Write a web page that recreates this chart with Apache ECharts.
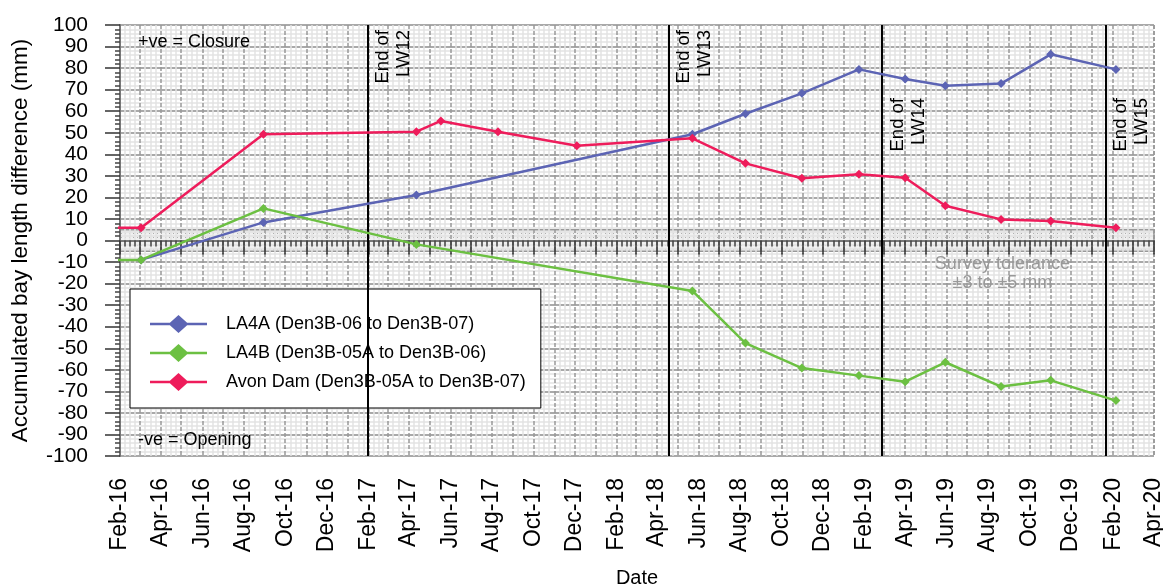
<!DOCTYPE html>
<html>
<head>
<meta charset="utf-8">
<script src="https://cdn.jsdelivr.net/npm/echarts@6/dist/echarts.min.js"></script>
<style>
html,body{margin:0;padding:0;background:#fff;}
#chart{width:1163px;height:588px;}
</style>
</head>
<body>
<div id="chart"></div>
<script>
// survey dates shared by LA4A / LA4B
var surveyDates = ['2016-03-03','2016-08-30','2017-04-12','2018-05-23','2018-08-09','2018-10-31','2019-01-23','2019-04-01','2019-05-30','2019-08-20','2019-11-01','2020-02-05'];
var la4aVals = [-9, 8.4, 21.1, 49.3, 58.8, 68.3, 79.4, 74.9, 71.8, 72.8, 86.4, 79.4];
var la4bDates = ['2016-01-15'].concat(surveyDates);
var la4bVals = [-9, -9, 14.9, -1.8, -23.4, -47.6, -59.2, -62.7, -65.5, -56.5, -67.8, -64.9, -74.3];
var avonDates = ['2016-01-15','2016-03-03','2016-08-30','2017-04-12','2017-05-18','2017-08-10','2017-12-04','2018-05-23','2018-08-09','2018-10-31','2019-01-23','2019-04-01','2019-05-30','2019-08-20','2019-11-01','2020-02-05'];
var avonVals = [6, 5.9, 49.3, 50.5, 55.5, 50.5, 44.0, 47.4, 35.8, 28.9, 30.7, 29.1, 16.1, 9.8, 9.0, 5.9];

// end of longwall dates
var lwDates = ['2017-01-30','2018-04-18','2019-02-26','2020-01-21'];
var lwNames = ['LW12','LW13','LW14','LW15'];

var monthNames = ['Jan','Feb','Mar','Apr','May','Jun','Jul','Aug','Sep','Oct','Nov','Dec'];
var seriesNames = ['LA4A (Den3B-06 to Den3B-07)','LA4B (Den3B-05A to Den3B-06)','Avon Dam (Den3B-05A to Den3B-07)'];
var colors = ['#5c64b4','#6cc042','#ee1c5b'];

var FONT = 'Liberation Sans, Arial, sans-serif';
var DAY = 86400000;
//legend icon: line with a big diamond
var legendIcon = 'path://M0,7.8 L57,7.8 L57,10.2 L0,10.2 Z M28.5,0 L38.5,9 L28.5,18 L18.5,9 Z';

function zip(d, v){
	var out = [];
	for(var i=0;i<d.length;i++){
		out.push([d[i], v[i]]);
	}
	return out;
}

//dotted fill for the survey tolerance band
var pat = document.createElement('canvas');
pat.width = 4; pat.height = 4;
var pctx = pat.getContext('2d');
pctx.fillStyle = 'rgba(225,225,225,0.5)';
pctx.fillRect(0,0,4,4);
pctx.fillStyle = '#b0b0b0';
pctx.fillRect(1,1,1,1);

var lwData = [];
for(var i=0;i<lwDates.length;i++){
	var item = {xAxis: lwDates[i], name: lwNames[i]};
	if(i>=2){
		item.label = {padding:[0,68,0,0]};
	}
	lwData.push(item);
}

function lineSeries(idx, data){
	return {
		name: seriesNames[idx],
		type: 'line',
		data: data,
		symbol: 'diamond',
		symbolSize: 9,
		z: 5,
		lineStyle: {color: colors[idx], width: 2.5},
		itemStyle: {color: colors[idx]},
		animation: false
	};
}

var legendData = [];
for(var j=0;j<seriesNames.length;j++){
	legendData.push({name: seriesNames[j], icon: legendIcon});
}

var myChart = echarts.init(document.getElementById('chart'));
var option = {
	animation: false,
	textStyle: {fontFamily: FONT},
	grid: {left:120, right:9, top:25, bottom:132, containLabel:false, outerBoundsMode:'none'},
	legend: {
		orient: 'vertical',
		left: 130, top: 289,
		padding: [26,15,17,20],
		backgroundColor: '#fff',
		borderColor: '#000',
		borderWidth: 1,
		itemWidth: 57, itemHeight: 18,
		itemGap: 11,
		textStyle: {fontFamily: FONT, fontSize: 18, color:'#000', padding:[0,0,0,14]},
		data: legendData
	},
	xAxis: {
		type: 'time',
		min: '2016-02-01', max: '2020-04-01',
		splitNumber: 50,
		minInterval: 28*DAY, maxInterval: 31*DAY,
		name: 'Date', nameLocation: 'middle', nameGap: 112,
		nameTextStyle: {fontFamily: FONT, fontSize: 20, color:'#000'},
		axisLine: {show:true, lineStyle:{color:'#777', width:2}},
		axisTick: {show:true, length:14, lineStyle:{color:'#333', width:1.5}},
		minorTick: {show:true, splitNumber:4, length:6, lineStyle:{color:'#444', width:1.5}},
		splitLine: {show:true, lineStyle:{color:'#999', width:1.5, type:[4,2]}},
		minorSplitLine: {show:true, lineStyle:{color:'#e4e4e4', width:1.5}},
		axisLabel: {
			rotate: 90, margin: 22,
			fontFamily: FONT, fontSize: 23, color:'#000',
			showMinLabel: true, showMaxLabel: true,
			formatter: function(val){
				var d = new Date(val);
				if(d.getMonth()%2 !== 1) return '';
				return monthNames[d.getMonth()] + '-' + String(d.getFullYear()).slice(2);
			}
		}
	},
	yAxis: {
		type: 'value',
		min: -100, max: 100, interval: 10,
		name: 'Accumulated bay length difference (mm)', nameLocation: 'middle', nameGap: 88,
		nameTextStyle: {fontFamily: FONT, fontSize: 22.5, color:'#000'},
		axisLine: {show:true, lineStyle:{color:'#777', width:2}},
		axisTick: {show:true, length:15, lineStyle:{color:'#333', width:1.5}},
		minorTick: {show:true, splitNumber:5, length:5, lineStyle:{color:'#444', width:1.5}},
		splitLine: {show:true, lineStyle:{color:'#8c8c8c', width:1.5}},
		minorSplitLine: {show:true, lineStyle:{color:'#e4e4e4', width:1.5}},
		axisLabel: {margin: 32, fontFamily: FONT, fontSize: 21, color:'#000'}
	},
	graphic: [
		{type:'text', left:138, top:33, z:100, style:{text:'+ve = Closure', font:'18px ' + FONT, fill:'#000'}},
		{type:'text', left:138, top:431, z:100, style:{text:'-ve = Opening', font:'18px ' + FONT, fill:'#000'}}
	],
	series: [
		{
			type: 'line', data: [], z: -1, silent: true,
			markArea: {
				silent: true, z: -1,
				itemStyle: {color: {image: pat, repeat: 'repeat'}, borderColor:'#999', borderWidth:1.5},
				data: [[{yAxis:-5},{yAxis:5}]]
			}
		},
		{
			type: 'line', data: [], z: 3, silent: true,
			markLine: {
				silent: true, symbol: ['none','none'],
				lineStyle: {color:'#000', width:2, type:'solid'},
				label: {
					show: true, position: 'insideEndBottom', distance: 5,
					formatter: 'End of\n{b}', color:'#000', fontSize:18.5, lineHeight:21, fontFamily:FONT
				},
				emphasis: {disabled:true},
				data: lwData
			}
		},
		{
			type: 'line', data: [], z: 50, silent: true,
			markPoint: {
				silent: true, symbol: 'circle', symbolSize: 1, z: 50,
				itemStyle: {color: 'rgba(0,0,0,0)'},
				label: {show:true, position:'inside', formatter:'Survey tolerance\n±3 to ±5 mm', color:'#999', fontSize:18, lineHeight:19, fontFamily:FONT},
				data: [{coord:['2019-08-22', -15.5]}]
			}
		},
		lineSeries(0, zip(surveyDates, la4aVals)),
		lineSeries(1, zip(la4bDates, la4bVals)),
		lineSeries(2, zip(avonDates, avonVals))
	]
};
if(option && typeof option === "object") {
	myChart.setOption(option, true);
}
</script>
</body>
</html>
